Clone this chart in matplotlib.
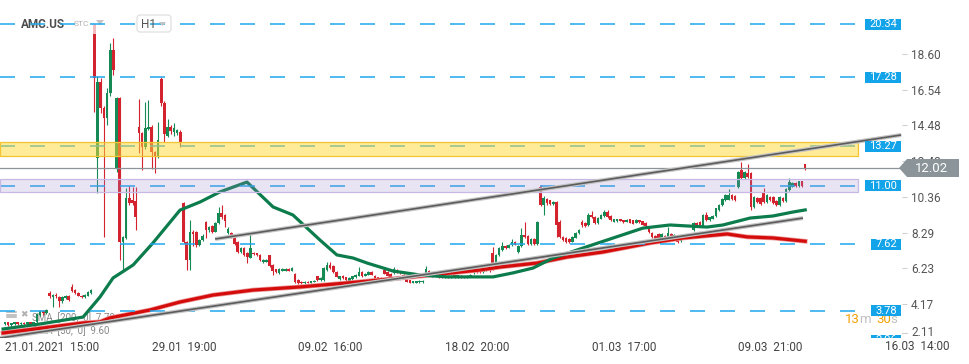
import numpy as np
import matplotlib
matplotlib.use("Agg")
import matplotlib.pyplot as plt
import matplotlib.patheffects as pe
import matplotlib.transforms as mtransforms
from matplotlib.patches import Rectangle, Polygon, FancyBboxPatch
from matplotlib.lines import Line2D

plt.rcParams["font.family"] = ["Roboto", "DejaVu Sans"]
plt.rcParams["lines.scale_dashes"] = False

# AMC.US H1 candles, 7 per trading day (21.01.2021 15:00 -> 12.03.2021 21:00)
opens = [
    3.00, 3.10, 2.95, 3.02, 3.10, 3.00, 3.08,
    3.00, 3.10, 3.02, 3.10, 3.55, 3.75, 3.62,
    4.80, 4.58, 4.70, 4.55, 4.32, 4.50, 4.62,
    5.15, 5.00, 4.80, 4.65, 4.55, 4.65, 4.80,
    20.34, 12.60, 17.00, 15.50, 14.89, 16.34, 18.84,
    12.02, 16.07, 7.75, 8.00, 10.30, 10.20, 10.10,
    14.39, 14.04, 13.24, 14.30, 14.39, 12.95, 12.66,
    17.17, 15.78, 13.90, 14.39, 14.10, 14.05, 14.10,
    10.00, 7.75, 6.71, 8.33, 8.30, 7.57, 7.86,
    8.90, 8.44, 8.70, 8.33, 8.84, 9.42, 9.30,
    8.27, 8.27, 8.04, 7.75, 7.17, 7.40, 7.10,
    6.85, 7.10, 7.10, 7.00, 6.60, 6.60, 6.99,
    6.42, 6.19, 5.96, 6.10, 6.10, 6.20, 6.10,
    5.90, 5.55, 5.45, 5.38, 5.45, 5.40, 5.45,
    5.77, 5.55, 5.55, 6.13, 6.42, 6.36, 6.00,
    5.60, 5.80, 5.70, 5.50, 5.60, 5.70, 5.80,
    6.00, 5.80, 5.85, 6.00, 5.80, 5.70, 5.65,
    6.13, 6.00, 5.90, 5.95, 6.15, 6.00, 5.85,
    5.66, 5.55, 5.38, 5.40, 5.42, 5.42, 5.90,
    6.10, 5.85, 5.80, 5.85, 5.80, 5.70, 5.80,
    5.70, 5.82, 5.70, 5.80, 5.78, 5.68, 5.75,
    5.95, 6.20, 6.10, 6.00, 6.10, 6.30, 7.10,
    6.42, 6.99, 7.30, 7.50, 7.40, 7.55, 7.75,
    7.17, 7.52, 8.15, 8.10, 7.63, 7.90, 7.63,
    10.93, 9.88, 10.23, 10.15, 9.95, 10.06, 8.90,
    8.04, 7.98, 7.92, 7.75, 7.98, 8.27, 8.90,
    8.85, 8.73, 9.31, 9.19, 8.84, 9.10, 9.25,
    9.50, 9.25, 8.90, 8.95, 9.08, 9.00, 8.90,
    9.05, 9.00, 8.85, 9.00, 8.95, 8.85, 8.50,
    8.27, 8.10, 8.20, 7.95, 8.10, 7.95, 8.20,
    7.98, 8.10, 7.80, 8.05, 7.95, 7.98, 8.44,
    8.84, 8.90, 8.67, 9.31, 9.02, 9.10, 9.25,
    9.60, 9.88, 10.17, 10.20, 10.46, 10.40, 10.90,
    11.90, 11.45, 11.73, 11.73, 9.77, 10.29, 10.29,
    10.64, 10.06, 10.35, 10.35, 10.12, 9.88, 10.29,
    10.12, 10.75, 10.93, 11.16, 10.98, 11.27, 12.25,
]
highs = [
    3.15, 3.12, 3.08, 3.14, 3.13, 3.10, 3.12,
    3.12, 3.14, 3.15, 3.65, 3.80, 3.82, 3.85,
    4.92, 4.75, 4.82, 4.60, 4.60, 4.70, 4.70,
    5.30, 5.05, 4.85, 4.70, 4.75, 4.90, 5.05,
    20.36, 17.34, 17.20, 15.60, 16.63, 19.22, 19.51,
    16.10, 16.10, 8.10, 10.87, 11.00, 10.93, 10.93,
    16.01, 14.10, 15.84, 15.95, 14.50, 13.00, 14.68,
    17.30, 15.90, 14.86, 14.50, 14.60, 14.30, 14.20,
    10.05, 7.80, 9.02, 8.45, 8.40, 7.90, 8.20,
    8.95, 8.70, 8.75, 8.90, 9.77, 9.90, 9.35,
    8.60, 8.30, 8.10, 7.80, 7.45, 7.45, 7.15,
    8.21, 7.15, 7.12, 7.05, 6.75, 6.75, 7.00,
    6.45, 6.20, 6.25, 6.25, 6.25, 6.25, 6.30,
    5.95, 5.60, 5.50, 5.48, 5.48, 5.52, 5.56,
    5.80, 5.70, 6.30, 6.59, 6.60, 6.40, 6.05,
    5.80, 5.85, 5.75, 5.70, 5.80, 5.88, 6.30,
    6.05, 5.95, 6.05, 6.05, 5.85, 5.72, 5.70,
    6.18, 6.05, 5.95, 6.30, 6.20, 6.05, 5.90,
    5.70, 5.58, 5.52, 5.52, 5.54, 5.55, 6.35,
    6.15, 5.90, 5.95, 5.88, 5.82, 5.85, 5.84,
    5.84, 5.85, 5.86, 5.84, 5.80, 5.82, 5.88,
    6.25, 6.25, 6.15, 6.20, 6.30, 6.35, 7.45,
    7.05, 7.45, 7.75, 7.55, 7.65, 7.90, 7.80,
    7.55, 8.56, 8.90, 8.15, 7.95, 7.95, 8.95,
    11.04, 10.40, 10.30, 10.20, 10.10, 10.10, 9.00,
    8.10, 8.02, 7.98, 8.08, 8.30, 8.50, 9.02,
    8.90, 9.40, 9.54, 9.25, 9.18, 9.35, 9.60,
    9.60, 9.30, 9.08, 9.10, 9.10, 9.04, 9.05,
    9.08, 9.04, 9.05, 9.03, 8.98, 8.88, 8.55,
    8.35, 8.14, 8.24, 8.24, 8.14, 8.61, 8.24,
    8.20, 8.14, 8.04, 8.08, 8.14, 8.15, 8.88,
    8.90, 8.95, 9.35, 9.50, 9.22, 9.30, 9.74,
    9.92, 10.27, 10.50, 10.80, 10.50, 10.44, 11.85,
    12.37, 11.85, 12.25, 11.78, 10.40, 10.35, 10.35,
    10.87, 10.50, 10.40, 10.40, 10.15, 10.40, 10.33,
    10.85, 11.46, 11.20, 11.20, 11.30, 11.30, 12.27,
]
lows = [
    2.95, 2.90, 2.92, 2.98, 2.96, 2.97, 2.95,
    2.96, 2.98, 3.00, 3.05, 3.50, 3.55, 3.58,
    4.50, 3.98, 4.52, 4.00, 4.25, 4.45, 4.35,
    4.85, 4.75, 4.60, 4.50, 4.50, 4.60, 4.75,
    15.26, 10.56, 15.20, 8.05, 14.50, 16.20, 17.39,
    11.79, 6.71, 6.02, 7.90, 9.90, 9.90, 8.44,
    12.89, 11.91, 13.10, 14.20, 11.97, 11.74, 12.60,
    15.60, 13.52, 13.80, 14.00, 13.90, 13.95, 13.24,
    7.70, 6.13, 6.13, 7.50, 7.45, 7.50, 7.80,
    7.98, 8.35, 8.25, 8.30, 8.80, 9.10, 8.60,
    8.20, 8.00, 7.60, 7.10, 7.10, 6.95, 6.54,
    6.80, 7.00, 6.95, 6.65, 6.55, 6.58, 6.30,
    5.84, 5.95, 5.90, 6.05, 6.05, 6.05, 6.05,
    5.40, 5.30, 5.33, 5.33, 5.35, 5.36, 5.42,
    5.50, 5.50, 5.50, 6.10, 6.20, 5.95, 5.70,
    5.55, 5.62, 5.50, 5.45, 5.58, 5.68, 5.78,
    5.75, 5.78, 5.82, 5.82, 5.58, 5.55, 5.55,
    5.88, 5.78, 5.62, 5.92, 5.98, 5.90, 5.62,
    5.42, 5.35, 5.35, 5.37, 5.38, 5.38, 5.88,
    5.88, 5.70, 5.78, 5.68, 5.66, 5.68, 5.66,
    5.68, 5.66, 5.68, 5.68, 5.64, 5.66, 5.72,
    5.92, 5.95, 5.95, 5.96, 6.05, 6.00, 6.13,
    6.35, 6.95, 7.25, 7.35, 7.38, 7.50, 7.55,
    7.10, 7.45, 7.95, 7.55, 7.60, 7.60, 7.60,
    9.80, 9.31, 9.90, 9.90, 9.90, 8.04, 7.95,
    7.80, 7.70, 7.70, 7.72, 7.95, 8.22, 8.60,
    8.60, 8.70, 9.15, 8.80, 8.80, 9.05, 9.20,
    9.15, 8.98, 8.88, 8.92, 8.94, 8.86, 8.88,
    8.82, 8.78, 8.82, 8.86, 8.72, 8.62, 8.25,
    8.00, 7.88, 7.96, 7.92, 7.88, 7.92, 7.94,
    7.95, 7.70, 7.76, 7.92, 7.92, 7.95, 8.40,
    8.62, 8.60, 8.64, 8.98, 8.98, 9.06, 9.20,
    9.55, 9.84, 10.12, 10.15, 10.18, 10.12, 10.85,
    11.40, 11.40, 11.45, 9.60, 9.72, 10.00, 9.90,
    10.00, 10.02, 10.12, 9.96, 9.84, 9.85, 10.08,
    10.08, 10.70, 10.90, 10.94, 10.95, 10.90, 11.90,
]
closes = [
    3.10, 2.95, 3.05, 3.10, 3.00, 3.08, 3.00,
    3.10, 3.02, 3.12, 3.60, 3.75, 3.62, 3.80,
    4.60, 4.70, 4.60, 4.34, 4.55, 4.65, 4.40,
    4.92, 4.80, 4.65, 4.55, 4.70, 4.85, 4.98,
    17.25, 17.00, 15.49, 14.91, 16.34, 18.84, 17.68,
    16.07, 7.75, 8.04, 10.29, 10.00, 10.00, 9.19,
    14.04, 13.24, 14.34, 14.39, 12.95, 12.66, 13.64,
    15.78, 14.00, 14.39, 14.16, 14.35, 14.20, 13.47,
    7.75, 6.71, 8.33, 8.20, 7.57, 7.86, 8.10,
    8.44, 8.61, 8.33, 8.84, 9.42, 9.19, 8.96,
    8.50, 8.04, 7.63, 7.17, 7.40, 7.00, 6.88,
    7.40, 7.05, 6.99, 6.71, 6.70, 6.72, 6.36,
    6.07, 6.02, 6.19, 6.20, 6.20, 6.10, 6.25,
    5.44, 5.38, 5.38, 5.42, 5.38, 5.48, 5.52,
    5.55, 5.66, 6.25, 6.42, 6.25, 6.00, 5.73,
    5.77, 5.66, 5.55, 5.66, 5.77, 5.85, 6.00,
    5.80, 5.90, 6.00, 5.85, 5.62, 5.60, 5.60,
    5.90, 5.80, 5.66, 6.20, 6.00, 5.95, 5.66,
    5.45, 5.38, 5.50, 5.50, 5.50, 5.52, 6.20,
    5.90, 5.75, 5.90, 5.70, 5.70, 5.80, 5.70,
    5.80, 5.70, 5.82, 5.72, 5.68, 5.78, 5.82,
    6.20, 6.00, 6.00, 6.15, 6.25, 6.05, 6.54,
    6.99, 7.40, 7.50, 7.40, 7.60, 7.75, 7.60,
    7.52, 8.15, 8.04, 7.63, 7.92, 7.63, 8.90,
    9.88, 10.29, 10.00, 9.95, 10.06, 8.73, 8.04,
    7.86, 7.75, 7.75, 8.04, 8.27, 8.44, 8.73,
    8.67, 9.31, 9.19, 8.84, 9.13, 9.31, 9.50,
    9.19, 9.02, 9.05, 9.08, 8.96, 8.90, 9.02,
    8.85, 8.80, 9.02, 8.90, 8.75, 8.67, 8.30,
    8.04, 7.92, 8.00, 8.20, 7.92, 8.25, 7.98,
    8.15, 7.75, 8.00, 7.95, 8.10, 8.10, 8.84,
    8.67, 8.67, 9.31, 9.02, 9.19, 9.25, 9.70,
    9.88, 10.23, 10.46, 10.46, 10.23, 10.17, 11.79,
    11.45, 11.79, 11.50, 9.77, 10.35, 10.06, 9.94,
    10.06, 10.46, 10.17, 10.00, 9.88, 10.35, 10.12,
    10.80, 11.21, 11.16, 10.98, 11.27, 11.00, 12.02,
]

# moving averages (candle index, price)
sma50_at = [-0.6, 11.0, 24.5, 29.8, 33.9, 40.2, 46.4, 54.9, 61.2, 67.4, 75.9,
            84.1, 90.3, 98.8, 104.1, 109.2, 113.6, 121.7, 130.2, 138.6, 153.1,
            159.3, 165.6, 171.9, 181.3, 189.8, 200.1, 208.6, 220.2, 225.2,
            233.7, 240.9, 247.2, 251.0]
sma50 = [2.72, 3.01, 3.41, 4.57, 5.67, 6.42, 7.69, 9.59, 10.06, 10.64, 11.21,
         9.77, 9.31, 7.86, 7.00, 6.82, 6.53, 6.07, 5.84, 5.73, 5.73,
         5.96, 6.24, 6.82, 7.40, 7.92, 8.55, 8.73, 8.61, 8.73,
         9.13, 9.25, 9.48, 9.60]
sma200_at = [-0.6, 24.5, 29.8, 32.9, 45.5, 54.9, 65.2, 77.8, 92.5, 107.3, 128.0,
             149.0, 155.3, 166.9, 176.3, 187.6, 202.3, 212.7, 226.5, 232.8,
             240.9, 251.0]
sma200 = [2.49, 3.07, 3.13, 3.36, 3.82, 4.28, 4.68, 4.97, 5.15, 5.38, 5.73,
          6.13, 6.30, 6.53, 6.88, 7.17, 7.69, 7.98, 8.21, 8.04, 7.98, 7.79]

# drawn objects
upper_trend_at, upper_trend = [65.9, 281.1], [7.92, 13.93]
lower_trend_at, lower_trend = [-1.57, 250.3], [2.20, 9.13]
levels = [20.34, 17.28, 13.27, 11.00, 7.62, 3.78, 2.06]
yellow_zone = (12.73, 13.51)
purple_zone = (10.64, 11.37)
last_price = 12.02

time_ticks = [0, 46, 92, 138, 184, 230]
time_labels = ["21.01.2021  15:00", "29.01  19:00", "09.02  16:00",
               "18.02  20:00", "01.03  17:00", "09.03  21:00"]
price_ticks = [18.60, 16.54, 14.48, 12.42, 10.36, 8.29, 6.23, 4.17]

GREEN = "#168a55"
RED = "#d3232f"
BLUE = "#1ea7ee"
BOX_BLUE = "#12a3e8"

W, H = 970, 364
fig = plt.figure(figsize=(W / 100, H / 100), dpi=100)
ax = fig.add_axes([0, 1 - 338 / H, 902 / W, 338 / H])
inch = fig.dpi_scale_trans


def px(x, y):
    return (x / 100, (H - y) / 100)


o = np.array(opens)
c = np.array(closes)
hi = np.array(highs)
lo = np.array(lows)
idx = np.arange(len(o))
up = c >= o

for colour, mask in ((GREEN, up), (RED, ~up)):
    ax.vlines(idx[mask], lo[mask], hi[mask], color=colour, lw=0.8, zorder=2)
    ax.bar(idx[mask], (c - o)[mask], bottom=o[mask], width=0.82,
           color=colour, linewidth=0, zorder=2.1)

ax.plot(sma200_at, sma200, color="#d40c0c", lw=2.3, zorder=2.4,
        solid_joinstyle="round",
        path_effects=[pe.Stroke(linewidth=3.4, foreground="#ec9a9a"), pe.Normal()])
ax.plot(sma50_at, sma50, color="#0c7c4c", lw=2.3, zorder=2.5,
        solid_joinstyle="round")

# header overlay
ax.add_patch(Rectangle(px(14, 34), 0.98, 0.22, transform=inch, fc="white",
                       ec="none", alpha=0.7, zorder=2.7))
ax.text(*px(21, 24), "AMC.US", transform=inch, fontsize=8.5, fontweight="bold",
        color="#4d4d4d", va="center", zorder=2.75)
ax.text(*px(74, 24.5), "STC", transform=inch, fontsize=6, color="#b0b0b0",
        va="center", zorder=2.75)
ax.add_patch(Polygon([px(96, 20), px(104, 20), px(100, 25)], transform=inch,
                     fc="#c4c4c4", ec="none", zorder=2.75))
ax.add_patch(FancyBboxPatch(px(137, 32), 0.34, 0.17, transform=inch,
                            boxstyle="round,pad=0,rounding_size=0.03",
                            fc="white", ec="#dcdcdc", lw=0.8, zorder=2.75))
ax.text(*px(141, 24), "H1", transform=inch, fontsize=8.5, color="#555555",
        va="center", zorder=2.9)
ax.add_patch(Polygon([px(159, 22), px(166, 22), px(162.5, 26)], transform=inch,
                     fc="#c4c4c4", ec="none", zorder=2.9))

# indicator legend bottom-left
for yy in (312, 314.5, 317):
    ax.add_line(Line2D([0.07, 0.16], [(H - yy) / 100] * 2, transform=inch,
                       color="#b0b0b0", lw=1.1, zorder=1.5))
ax.text(*px(24, 314.5), "\u2716", transform=inch, fontsize=6.5, color="#b0b0b0",
        ha="center", va="center", family=["DejaVu Sans"], zorder=1.5)
ax.text(*px(32, 318), "SMA  [200,  0]  7.79", transform=inch, fontsize=7,
        color="#888888", va="center", zorder=1.5)
ax.text(*px(32, 331), "SMA  [50,  0]  9.60", transform=inch, fontsize=7,
        color="#888888", va="center", zorder=1.5)

# horizontal levels and zones
for p in levels:
    ax.axhline(p, xmax=858 / 902, color=BLUE, lw=1.1, ls=(0, (10.8, 10.8)),
               zorder=2.8)
ax.axhspan(*yellow_zone, xmax=858 / 902, fc=(1.0, 0.85, 0.2, 0.5),
           ec="#f4c430", lw=0.9, zorder=3)
ax.axhspan(*purple_zone, xmax=858 / 902, fc=(0.62, 0.52, 0.82, 0.22),
           ec="#c8b8e4", lw=0.9, zorder=3)
ax.axhline(last_price, color="#8a9499", lw=0.9, zorder=4)

trend_fx = [pe.Stroke(linewidth=2.9, foreground="#c4c4c4"), pe.Normal()]
for tx, ty in ((upper_trend_at, upper_trend), (lower_trend_at, lower_trend)):
    ax.plot(tx, ty, color="#5c5c5c", lw=1.2, zorder=5, solid_capstyle="butt",
            path_effects=trend_fx)

# countdown
for x, s, col in ((845, "13", "#f5a000"), (859, "m", "#c0c0c0"),
                  (876, "30", "#f5a000"), (890, "s", "#c0c0c0")):
    ax.text(*px(x, 319.5), s, transform=inch, fontsize=9.5, color=col,
            va="center", zorder=5.5)

# price label boxes on the levels
blend = mtransforms.blended_transform_factory(ax.transAxes, ax.transData)
box_h = 11 / 17.31
for p in levels:
    lab = f"{p:.2f}"
    w = (6.2 * len(lab) + 5) / 902
    ax.add_patch(Rectangle((901 / 902 - w, p - box_h / 2), w, box_h,
                           transform=blend, fc=BOX_BLUE, ec="none", zorder=6))
    ax.text(901 / 902 - w / 2, p, lab, transform=blend, ha="center",
            va="center", color="white", fontsize=8, zorder=6.5)

# axes styling
ax.set_xlim(-5 / 3.188, 897 / 3.188)
ax.set_ylim(2.20, 21.73)
for s in ax.spines.values():
    s.set_visible(False)
ax.yaxis.tick_right()
ax.set_yticks(price_ticks, [f"{p:.2f}" for p in price_ticks])
ax.tick_params(axis="y", length=3.6, width=0.8, color="#d0d0d0", pad=2.9,
               labelsize=8.5, labelcolor="#555555")
ax.set_xticks(time_ticks, time_labels)
ax.tick_params(axis="x", length=0, pad=2.5, labelsize=8.5, labelcolor="#444444")
for t in ax.get_xticklabels():
    t.set_horizontalalignment("left")

# right-hand extras
fig.add_artist(Line2D([9.02, 9.07], [(H - 333) / 100] * 2, transform=inch,
                      color="#d0d0d0", lw=0.8))
fig.text(911 / W, 1 - 333 / H, "2.11", fontsize=8.5, color="#555555",
         va="center")
fig.text(885 / W, 1 - 347 / H, "16.03  14:00", fontsize=8.5, color="#444444",
         va="center")
fig.add_artist(Polygon([px(899, 168), px(907, 159), px(959, 159), px(959, 177),
                        px(907, 177)], transform=inch, fc="#8a9499", ec="none"))
fig.text(932 / W, 1 - 168 / H, f"{last_price:.2f}", fontsize=9.5,
         color="white", ha="center", va="center")

fig.savefig("out.png", dpi=100)
